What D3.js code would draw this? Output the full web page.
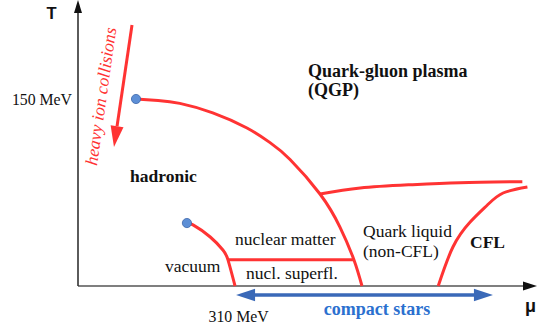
<!DOCTYPE html>
<html>
<head>
<meta charset="utf-8">
<script src="https://cdn.jsdelivr.net/npm/d3@7/dist/d3.min.js"></script>
<style>
  html, body { margin: 0; padding: 0; background: #fff; }
  svg { display: block; }
</style>
</head>
<body>
<svg id="chart" width="547" height="333"></svg>
<script>
// QCD phase diagram: temperature T versus quark chemical potential mu (both in MeV)

// Phase boundaries, [mu, T]
const hadronQgpBoundary = [[114.5,150],[158,148.8],[201,146.5],[266,138.9],[333.5,126.7],[379,115],[418.5,101.5],[477.6,73.8],[517,47.3],[544.7,20.9],[560.5,0]];
const nuclearBoundary   = [[215,50.5],[227,49],[261,39.3],[286,28.9],[296,21],[310,0]];
const superfluidLine    = [[298,21],[544.7,21]];
const quarkLiquidTop    = [[477.6,73.8],[557,78.6],[655,81.2],[754,82.9],[877,83.7]];
const cflBoundary       = [[711,0],[740,31.3],[774,51.3],[808,65],[839,74.6],[887,79.4]];
const criticalPoints    = [[114.5,150],[215,50.5]];

// Trajectories
const heavyIonPath      = [[106.6,209.4],[71,111.5]];
const compactStarsRange = [310, 819];

// Axis ticks
const muTicks = [310];
const tTicks  = [150];
const tickUnit = "MeV";

// Region labels
const qgpLabel       = ["Quark-gluon plasma", "(QGP)"];
const hadronicLabel  = "hadronic";
const nuclearLabel   = "nuclear matter";
const superflLabel   = "nucl. superfl.";
const vacuumLabel    = "vacuum";
const quarkLiqLabel  = ["Quark liquid", "(non-CFL)"];
const cflLabel       = "CFL";
const starsLabel     = "compact stars";
const heavyIonLabel  = "heavy ion collisions";
const axisNames      = { x: "μ", y: "T" };

const svg = d3.select("#chart");
const RED = "#ff3333";
const BLUE = "#3a69b8";
const SERIF = '"Liberation Serif", "Times New Roman", Times, serif';
const SANS = '"Liberation Sans", Arial, Helvetica, sans-serif';

const x = d3.scaleLinear().domain([0, 900]).range([78, 534]);
const y = d3.scaleLinear().domain([0, 150]).range([286, 99]);

// ---- axes with arrow heads ----
svg.append("line").attr("x1", x(0)).attr("y1", y(0)).attr("x2", 524).attr("y2", y(0))
  .attr("stroke", "#555").attr("stroke-width", 1.6);
svg.append("path").attr("d", `M537,${y(0)} L523,${y(0)-4.5} L523,${y(0)+4.5} Z`).attr("fill", "#111");
svg.append("line").attr("x1", x(0)).attr("y1", y(0)).attr("x2", x(0)).attr("y2", 12)
  .attr("stroke", "#333").attr("stroke-width", 1.6);
svg.append("path").attr("d", `M${x(0)},0 L${x(0)-4},13 L${x(0)+4},13 Z`).attr("fill", "#111");

const xAxis = d3.axisBottom(x).tickValues(muTicks).tickSize(0).tickPadding(25)
  .tickFormat(d => `${d} ${tickUnit}`);
const yAxis = d3.axisLeft(y).tickValues(tTicks).tickSize(0).tickPadding(6)
  .tickFormat(d => `${d} ${tickUnit}`);

const gx = svg.append("g").attr("transform", `translate(0,${y(0)})`).call(xAxis);
const gy = svg.append("g").attr("transform", `translate(${x(0)},0)`).call(yAxis);
[gx, gy].forEach(g => {
  g.select(".domain").remove();
  g.selectAll("text").attr("font-family", SERIF).attr("font-size", 15.8).attr("fill", "#111");
});
gx.selectAll("text").attr("dx", 3);

svg.append("text").text(axisNames.y).attr("x", 46.5).attr("y", 18.5)
  .attr("font-family", SANS).attr("font-weight", "bold").attr("font-size", 16.5).attr("fill", "#111");
svg.append("text").text(axisNames.x).attr("x", 525).attr("y", 312)
  .attr("font-family", SANS).attr("font-weight", "bold").attr("font-size", 18).attr("fill", "#111");

// ---- phase boundaries ----
const curve = d3.line().x(d => x(d[0])).y(d => y(d[1])).curve(d3.curveNatural);
const straight = d3.line().x(d => x(d[0])).y(d => y(d[1]));

[hadronQgpBoundary, nuclearBoundary, quarkLiquidTop, cflBoundary].forEach(pts => {
  svg.append("path").attr("d", curve(pts)).attr("fill", "none")
    .attr("stroke", RED).attr("stroke-width", 3).attr("stroke-linecap", "butt");
});
svg.append("path").attr("d", straight(superfluidLine)).attr("fill", "none")
  .attr("stroke", RED).attr("stroke-width", 3);

// critical end points
svg.selectAll("circle.cp").data(criticalPoints).join("circle").attr("class", "cp")
  .attr("cx", d => x(d[0])).attr("cy", d => y(d[1])).attr("r", 4.6)
  .attr("fill", "#5d8fd6").attr("stroke", "#3c66aa").attr("stroke-width", 0.8);

// ---- heavy ion collisions arrow ----
{
  const [p0, p1] = heavyIonPath.map(d => [x(d[0]), y(d[1])]);
  const ang = Math.atan2(p1[1] - p0[1], p1[0] - p0[0]);
  const headLen = 21, headHalf = 6.5;
  const bx = p1[0] - headLen * Math.cos(ang), by = p1[1] - headLen * Math.sin(ang);
  svg.append("line").attr("x1", p0[0]).attr("y1", p0[1]).attr("x2", bx).attr("y2", by)
    .attr("stroke", RED).attr("stroke-width", 3);
  const nx = -Math.sin(ang), ny = Math.cos(ang);
  svg.append("path")
    .attr("d", `M${p1[0]},${p1[1]} L${bx + nx*headHalf},${by + ny*headHalf} L${bx - nx*headHalf},${by - ny*headHalf} Z`)
    .attr("fill", RED);
  svg.append("text").text(heavyIonLabel)
    .attr("transform", "translate(97,166) rotate(-82)")
    .attr("font-family", SERIF).attr("font-style", "italic").attr("font-size", 17.5).attr("fill", RED);
}

// ---- compact stars double arrow ----
{
  const yA = 295, x0 = x(compactStarsRange[0]) + 1, x1 = x(compactStarsRange[1]);
  const hl = 19, hh = 6.2;
  svg.append("line").attr("x1", x0 + hl - 1).attr("y1", yA).attr("x2", x1 - hl + 1).attr("y2", yA)
    .attr("stroke", BLUE).attr("stroke-width", 3.6);
  svg.append("path").attr("d", `M${x0},${yA} L${x0+hl},${yA-hh} L${x0+hl},${yA+hh} Z`).attr("fill", BLUE);
  svg.append("path").attr("d", `M${x1},${yA} L${x1-hl},${yA-hh} L${x1-hl},${yA+hh} Z`).attr("fill", BLUE);
  svg.append("text").text(starsLabel).attr("x", 377).attr("y", 315).attr("text-anchor", "middle")
    .attr("font-family", SERIF).attr("font-weight", "bold").attr("font-size", 18).attr("fill", "#2b70cf");
}

// ---- region labels ----
function label(txt, px, py, opts = {}) {
  svg.append("text").text(txt).attr("x", px).attr("y", py)
    .attr("font-family", SERIF).attr("font-size", opts.size || 17.5)
    .attr("font-weight", opts.bold ? "bold" : "normal").attr("fill", "#111");
}
label(qgpLabel[0], 308, 77, { bold: true, size: 18 });
label(qgpLabel[1], 308, 96, { bold: true, size: 18 });
label(hadronicLabel, 130, 182, { bold: true, size: 17.5 });
label(nuclearLabel, 235, 245);
label(superflLabel, 246, 279);
label(vacuumLabel, 165, 272);
label(quarkLiqLabel[0], 363, 237);
label(quarkLiqLabel[1], 363, 257);
label(cflLabel, 470, 248, { bold: true, size: 17.5 });
</script>
</body>
</html>
